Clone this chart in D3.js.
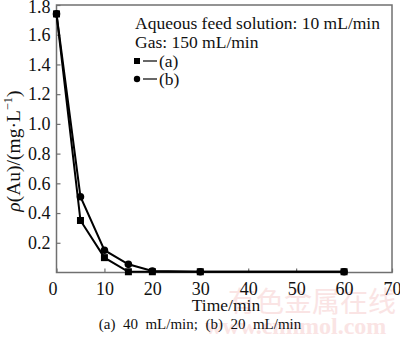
<!DOCTYPE html>
<html>
<head>
<meta charset="utf-8">
<script src="https://cdn.jsdelivr.net/npm/d3@7"></script>
<style>
  html, body { margin: 0; padding: 0; background: #fff; }
  svg { display: block; }
  svg text.serif { font-family: "Liberation Serif", "Times New Roman", serif !important; }
</style>
</head>
<body>
<svg id="chart" width="400" height="341"></svg>
<script>
// Gold concentration in the raffinate vs. time
const timesA = [0, 5, 10, 15, 20, 30, 60];
const valuesA = [1.74, 0.35, 0.10, 0.005, 0.005, 0.005, 0.005];
const timesB = [0, 5, 10, 15, 20, 30, 60];
const valuesB = [1.74, 0.51, 0.15, 0.055, 0.01, 0.005, 0.005];
const xTicks = [0, 10, 20, 30, 40, 50, 60, 70];
const yTicks = [0.2, 0.4, 0.6, 0.8, 1.0, 1.2, 1.4, 1.6, 1.8];
const legendLines = ["Aqueous feed solution: 10 mL/min", "Gas: 150 mL/min"];
const seriesLabels = ["(a)", "(b)"];
const captionText = "(a)  40  mL/min;  (b)  20  mL/min";

const svg = d3.select("#chart");
const L = 56.5, R = 392, T = 5, B = 272.5;

const x = d3.scaleLinear().domain([0, 70]).range([L, R]);
const y = d3.scaleLinear().domain([0, 1.8]).range([B, T]);

const axisColor = "#707070";

// site watermark
svg.append("text")
  .attr("x", 312).attr("y", 312)
  .attr("text-anchor", "middle")
  .attr("font-family", "Noto Sans CJK SC")
  .attr("font-size", 28)
  .attr("fill", "#fae4e4")
  .text("有色金属在线");
svg.append("text")
  .attr("class", "serif")
  .attr("x", 205).attr("y", 334)
  .attr("font-weight", "bold")
  .attr("font-size", 24)
  .attr("fill", "#fae4e4")
  .text("www.cnnmol.com");

// frame
svg.append("rect")
  .attr("x", L).attr("y", T)
  .attr("width", R - L).attr("height", B - T)
  .attr("fill", "none")
  .attr("stroke", axisColor)
  .attr("stroke-width", 1.5);

// x axis
const xAxis = d3.axisBottom(x).tickValues(xTicks).tickSizeInner(-4).tickSizeOuter(0).tickPadding(10);
const gx = svg.append("g").attr("transform", `translate(0,${B})`).call(xAxis);
gx.select(".domain").remove();
gx.selectAll(".tick line").attr("stroke", axisColor).attr("stroke-width", 1.2);
gx.selectAll(".tick text")
  .attr("class", "serif")
  .attr("font-size", 18)
  .attr("fill", "#111");
gx.selectAll(".tick").filter(d => d === 0).select("text").attr("dx", -4);

// y axis
const yAxis = d3.axisLeft(y).tickValues(yTicks).tickFormat(d3.format(".1f")).tickSizeInner(-4).tickSizeOuter(0).tickPadding(6);
const gy = svg.append("g").attr("transform", `translate(${L},0)`).call(yAxis);
gy.select(".domain").remove();
gy.selectAll(".tick line").attr("stroke", axisColor).attr("stroke-width", 1.2);
gy.selectAll(".tick text")
  .attr("class", "serif")
  .attr("font-size", 18)
  .attr("fill", "#111");
gy.selectAll(".tick").filter(d => d === 1.8).select("text").attr("dy", "0.42em");

// axis titles
svg.append("text")
  .attr("class", "serif")
  .attr("x", 226).attr("y", 311)
  .attr("text-anchor", "middle")
  .attr("font-size", 17.5)
  .attr("fill", "#111")
  .text("Time/min");

const yt = svg.append("text")
  .attr("class", "serif")
  .attr("transform", "translate(20,151) rotate(-90)")
  .attr("text-anchor", "middle")
  .attr("font-size", 19.5)
  .attr("fill", "#111");
yt.append("tspan").attr("font-style", "italic").text("ρ");
yt.append("tspan").text("(Au)/(mg·L");
yt.append("tspan").attr("font-size", 12.5).attr("dy", -8).text("−1");
yt.append("tspan").attr("dy", 8).text(")");

// caption
svg.append("text")
  .attr("class", "serif")
  .attr("x", 200).attr("y", 329)
  .attr("text-anchor", "middle")
  .attr("font-size", 15)
  .attr("fill", "#111")
  .style("white-space", "pre")
  .text(captionText);

// series
const line = d3.line().x(d => x(d[0])).y(d => y(d[1]));
const dataA = timesA.map((t, i) => [t, valuesA[i]]);
const dataB = timesB.map((t, i) => [t, valuesB[i]]);

[dataA, dataB].forEach(data => {
  svg.append("path")
    .datum(data)
    .attr("d", line)
    .attr("fill", "none")
    .attr("stroke", "#000")
    .attr("stroke-width", 2);
});

const sq = 7;
svg.append("g").selectAll("rect").data(dataA).join("rect")
  .attr("x", d => x(d[0]) - sq / 2)
  .attr("y", d => y(d[1]) - sq / 2)
  .attr("width", sq).attr("height", sq)
  .attr("fill", "#000");
svg.append("g").selectAll("circle").data(dataB).join("circle")
  .attr("cx", d => x(d[0]))
  .attr("cy", d => y(d[1]))
  .attr("r", 3.8)
  .attr("fill", "#000");

// legend
legendLines.forEach((s, i) => {
  svg.append("text")
    .attr("class", "serif")
    .attr("x", 135).attr("y", 29 + i * 18.5)
    .attr("font-size", 17.5)
    .attr("fill", "#111")
    .text(s);
});
seriesLabels.forEach((s, i) => {
  const cy = 61 + i * 18;
  if (i === 0) {
    svg.append("rect").attr("x", 134).attr("y", cy - 3).attr("width", 6).attr("height", 6).attr("fill", "#000");
  } else {
    svg.append("circle").attr("cx", 137).attr("cy", cy).attr("r", 3.2).attr("fill", "#000");
  }
  svg.append("line")
    .attr("x1", 143).attr("x2", 157)
    .attr("y1", cy).attr("y2", cy)
    .attr("stroke", "#000").attr("stroke-width", 1.2);
  svg.append("text")
    .attr("class", "serif")
    .attr("x", 159).attr("y", cy + 6)
    .attr("font-size", 17.5)
    .attr("fill", "#111")
    .text(s);
});
</script>
</body>
</html>
